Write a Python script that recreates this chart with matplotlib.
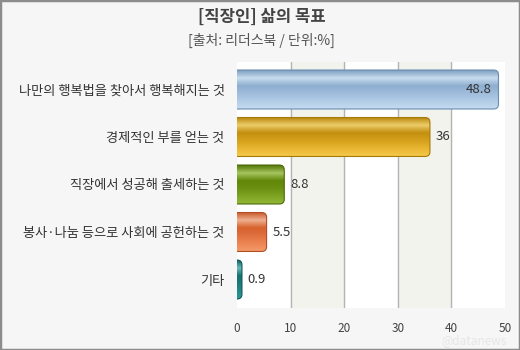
import numpy as np
import matplotlib.pyplot as plt
from matplotlib.patches import FancyBboxPatch, Rectangle
from matplotlib.colors import LinearSegmentedColormap

plt.rcParams['font.family'] = ['Noto Sans CJK KR', 'DejaVu Sans']

# survey data
categories = ['나만의 행복법을 찾아서 행복해지는 것', '경제적인 부를 얻는 것',
              '직장에서 성공해 출세하는 것', '봉사·나눔 등으로 사회에 공헌하는 것', '기타']
values = [48.8, 36, 8.8, 5.5, 0.9]
xticks = [0, 10, 20, 30, 40, 50]

# gradient stops per bar, bottom -> top
bar_stops = [
    ['#c4dcf2', '#b2cce6', '#9fbcdc', '#8eaed0', '#c8dcee', '#7f9fc2'],
    ['#f4c84a', '#e8b530', '#d4a01c', '#c48f10', '#eccd6a', '#b8860c'],
    ['#94b838', '#7ea424', '#6c9012', '#628608', '#a6c660', '#557608'],
    ['#f39a68', '#ec8452', '#e07040', '#d6622e', '#f0b090', '#c8582a'],
    ['#2e9898', '#248888', '#1c7a7a', '#167070', '#6ab8b8', '#106464'],
]
edge_colors = ['#6c8cb0', '#a47a08', '#4a6a06', '#b04e26', '#0c5858']

fig = plt.figure(figsize=(5.2, 3.5), dpi=100)
fig.patch.set_facecolor('#f6f6f6')
fig.patches.append(Rectangle((0, 0), 1, 1, transform=fig.transFigure,
                             fill=False, edgecolor='#8c8c8c', lw=2.5))

ax = fig.add_axes([0.456, 0.12, 0.515, 0.703])
ax.set_facecolor('white')

# alternating bands and grid
for lo in (10, 30):
    ax.axvspan(lo, lo + 10, color='#f3f3ee', zorder=0)
for x in xticks[1:-1]:
    ax.axvline(x, color='#b4b4b4', lw=1, zorder=1)

n = len(values)
ypos = np.arange(n)[::-1]
h = 0.82
px_x = 0.515 * 520 / 50          # pixels per x unit
px_y = 0.703 * 350 / 5.18        # pixels per y unit
aspect = px_x / px_y

for y, v, stops, ec in zip(ypos, values, bar_stops, edge_colors):
    cmap = LinearSegmentedColormap.from_list('g', stops)
    grad = np.linspace(0, 1, 64).reshape(-1, 1)
    patch = FancyBboxPatch((-1, y - h / 2), v + 1, h,
                           boxstyle='round,pad=0,rounding_size=0.9',
                           mutation_aspect=aspect,
                           facecolor='none', edgecolor=ec, lw=0.8, zorder=3)
    ax.add_patch(patch)
    im = ax.imshow(grad, cmap=cmap, origin='lower', aspect='auto',
                   extent=(-1, v, y - h / 2, y + h / 2), zorder=2)
    im.set_clip_path(patch)
    if v > 45:
        ax.text(v - 1.2, y, f'{v:g}', ha='right', va='center',
                fontsize=9.5, color='#333333', zorder=4)
    else:
        ax.text(v + 1.1, y, f'{v:g}', ha='left', va='center',
                fontsize=9.5, color='#333333', zorder=4)

ax.set_xlim(0, 50)
ax.set_ylim(-0.6, 4.58)
ax.set_xticks(xticks)
ax.set_yticks(ypos)
ax.set_yticklabels(categories)
ax.tick_params(axis='x', length=0, pad=10, labelsize=8.5, colors='#444444')
ax.tick_params(axis='y', length=0, pad=9, labelsize=9.5, colors='#333333')
for s in ax.spines.values():
    s.set_visible(False)

fig.text(0.503, 0.952, '[직장인] 삶의 목표', ha='center', va='center',
         fontsize=12, fontweight='bold', color='#444444')
fig.text(0.503, 0.885, '[출처: 리더스북 / 단위:%]', ha='center', va='center',
         fontsize=10, color='#555555')
fig.text(0.975, 0.028, '@datanews', ha='right', va='center',
         fontsize=8.5, color='#e6e6e6')

fig.savefig('out.png', dpi=100, facecolor=fig.get_facecolor())
